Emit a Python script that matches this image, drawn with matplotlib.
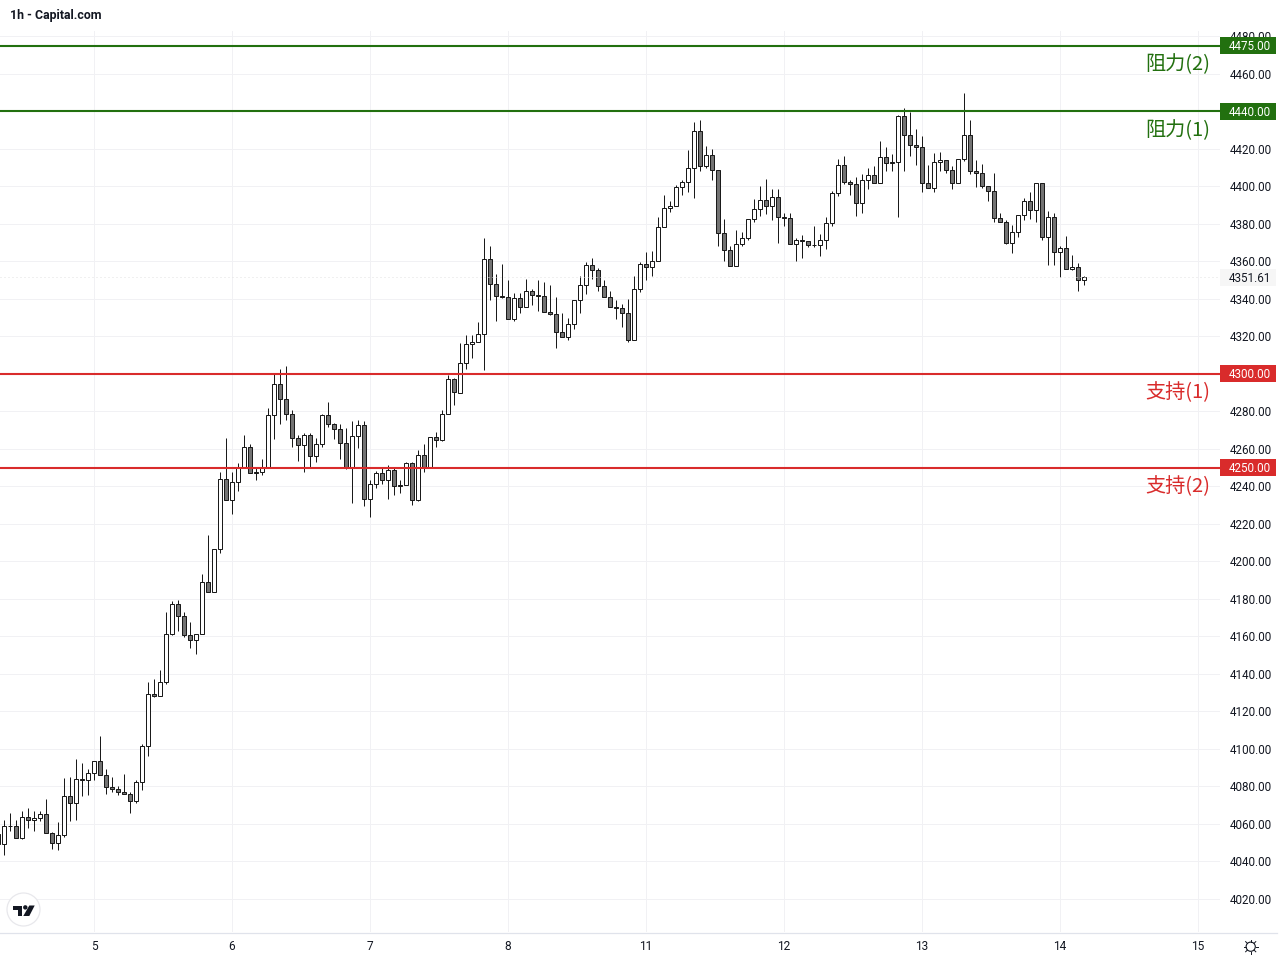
import matplotlib
matplotlib.use("Agg")
import matplotlib.pyplot as plt
from matplotlib.patches import Rectangle, Circle, Polygon
from matplotlib.lines import Line2D
import numpy as np

# Candles, one hour each (first one is cut by the left edge)
opens = [4054.4,
    4049.4, 4059.0, 4059.0, 4052.6, 4063.8, 4062.2, 4063.3, 4065.4, 4055.3, 4050.0,
    4054.2, 4075.0, 4071.3, 4084.1, 4083.6, 4087.3, 4093.7, 4086.2, 4079.8, 4078.8,
    4077.2, 4076.1, 4072.4, 4082.5, 4101.7, 4129.4, 4128.4, 4135.8, 4161.4, 4177.4,
    4171.0, 4160.7, 4158.2, 4161.4, 4189.2, 4183.8, 4206.4, 4244.1, 4232.9, 4242.5,
    4250.5, 4261.2, 4247.8, 4247.8, 4250.0, 4278.2, 4294.8, 4286.8, 4278.8, 4266.0,
    4262.2, 4267.6, 4256.4, 4262.8, 4278.2, 4273.4, 4270.8, 4263.3, 4250.5, 4267.0,
    4272.9, 4233.4, 4241.4, 4247.3, 4243.6, 4248.9, 4240.9, 4240.9, 4252.6, 4232.9,
    4256.9, 4250.5, 4266.5, 4264.9, 4278.7, 4297.4, 4290.0, 4306.0, 4316.1, 4317.2,
    4321.4, 4361.4, 4348.1, 4341.7, 4341.2, 4329.4, 4340.6, 4335.8, 4344.4, 4342.2,
    4341.7, 4333.2, 4332.1, 4322.5, 4319.8, 4326.8, 4339.6, 4347.6, 4358.2, 4355.6,
    4347.0, 4341.2, 4335.8, 4335.3, 4332.6, 4318.2, 4345.4, 4358.8, 4357.2, 4360.4,
    4378.5, 4388.6, 4389.7, 4399.8, 4402.5, 4410.0, 4429.7, 4411.0, 4416.9, 4408.9,
    4375.3, 4366.2, 4357.7, 4369.4, 4372.6, 4382.8, 4388.1, 4392.9, 4389.7, 4394.5,
    4383.8, 4383.3, 4369.4, 4371.6, 4371.0, 4368.7, 4368.9, 4371.6, 4380.6, 4396.6,
    4411.6, 4402.5, 4401.4, 4391.3, 4403.6, 4406.2, 4402.0, 4415.8, 4413.2, 4413.2,
    4437.7, 4427.6, 4422.2, 4421.2, 4402.0, 4399.3, 4413.2, 4414.2, 4408.9, 4402.0,
    4414.8, 4427.6, 4408.4, 4407.3, 4400.4, 4397.7, 4383.3, 4381.2, 4370.0, 4375.8,
    4384.9, 4392.4, 4387.6, 4402.0, 4373.2, 4383.8, 4365.2, 4367.3, 4356.1, 4357.2,
    4350.2]
closes = [4049.4,
    4059.0, 4058.8, 4052.6, 4063.8, 4062.2, 4063.3, 4065.4, 4055.3, 4050.0, 4054.2,
    4075.0, 4071.3, 4084.1, 4083.6, 4087.3, 4093.7, 4086.2, 4079.8, 4078.8, 4077.2,
    4076.1, 4072.4, 4082.5, 4101.7, 4129.4, 4128.4, 4135.8, 4161.4, 4177.4, 4171.0,
    4160.9, 4158.2, 4161.4, 4189.2, 4183.8, 4206.4, 4244.1, 4232.9, 4242.5, 4250.5,
    4261.2, 4247.3, 4247.3, 4250.0, 4278.2, 4294.8, 4286.8, 4278.8, 4266.0, 4262.2,
    4267.6, 4256.4, 4262.8, 4278.2, 4273.4, 4270.8, 4263.3, 4250.5, 4267.0, 4272.9,
    4233.4, 4241.4, 4247.3, 4243.6, 4248.9, 4240.4, 4240.4, 4252.6, 4232.9, 4256.9,
    4250.5, 4266.5, 4264.9, 4278.7, 4297.4, 4290.5, 4306.0, 4316.1, 4317.2, 4321.4,
    4361.4, 4348.1, 4341.7, 4341.0, 4329.4, 4340.6, 4335.8, 4344.4, 4342.2, 4341.7,
    4333.2, 4332.1, 4322.5, 4319.8, 4326.8, 4339.6, 4347.6, 4358.2, 4355.6, 4347.0,
    4341.2, 4335.8, 4335.3, 4332.6, 4318.2, 4345.4, 4358.8, 4357.2, 4360.4, 4378.5,
    4388.6, 4389.7, 4399.8, 4402.5, 4410.0, 4429.7, 4411.0, 4416.9, 4408.9, 4375.3,
    4366.2, 4357.7, 4369.4, 4372.6, 4382.8, 4388.1, 4392.9, 4389.7, 4394.5, 4383.8,
    4383.3, 4369.4, 4371.6, 4371.0, 4368.9, 4368.9, 4371.6, 4380.6, 4396.6, 4411.6,
    4402.5, 4401.4, 4391.3, 4403.6, 4406.2, 4402.0, 4415.8, 4412.6, 4412.6, 4437.7,
    4427.6, 4422.2, 4421.2, 4402.0, 4399.3, 4413.2, 4414.2, 4408.9, 4402.0, 4414.8,
    4427.6, 4408.4, 4407.3, 4400.4, 4397.7, 4383.3, 4381.2, 4370.0, 4375.8, 4384.9,
    4392.4, 4387.6, 4402.0, 4373.2, 4383.8, 4365.2, 4367.3, 4356.1, 4357.2, 4350.2,
    4351.61]
highs = [4056.0,
    4061.9, 4065.6, 4061.9, 4066.7, 4068.3, 4066.7, 4067.0, 4073.1, 4055.8, 4060.8,
    4084.3, 4084.8, 4094.4, 4092.3, 4089.1, 4093.7, 4106.7, 4089.1, 4085.3, 4080.5,
    4086.4, 4077.2, 4083.7, 4102.8, 4135.5, 4137.1, 4141.9, 4173.3, 4178.7, 4179.7,
    4172.8, 4167.5, 4161.4, 4193.1, 4213.9, 4206.9, 4247.8, 4265.6, 4247.5, 4252.6,
    4267.7, 4262.4, 4250.0, 4254.4, 4282.0, 4300.6, 4302.9, 4304.5, 4280.9, 4267.7,
    4268.6, 4268.6, 4265.6, 4278.9, 4284.8, 4274.0, 4273.4, 4271.3, 4274.7, 4275.7,
    4274.7, 4243.2, 4248.5, 4250.1, 4251.6, 4250.5, 4243.6, 4253.2, 4253.2, 4259.7,
    4262.4, 4266.5, 4269.2, 4280.9, 4299.2, 4298.0, 4316.6, 4320.9, 4320.9, 4327.8,
    4372.3, 4368.0, 4353.1, 4358.9, 4349.9, 4343.3, 4343.3, 4350.8, 4345.4, 4350.2,
    4349.3, 4347.7, 4341.3, 4332.6, 4330.0, 4339.6, 4352.5, 4359.8, 4362.0, 4356.6,
    4350.2, 4344.5, 4339.6, 4337.4, 4340.1, 4352.5, 4359.8, 4365.2, 4365.7, 4383.5,
    4395.7, 4392.5, 4400.9, 4403.6, 4419.6, 4434.5, 4435.7, 4421.7, 4420.1, 4408.9,
    4382.8, 4368.0, 4376.9, 4375.8, 4382.8, 4393.1, 4400.5, 4404.1, 4398.4, 4398.8,
    4386.0, 4386.0, 4372.6, 4374.2, 4371.0, 4378.7, 4374.8, 4383.8, 4397.7, 4414.8,
    4416.4, 4403.6, 4405.2, 4406.4, 4410.0, 4410.7, 4424.5, 4421.3, 4417.1, 4438.2,
    4441.6, 4439.8, 4430.4, 4426.7, 4411.7, 4418.0, 4418.5, 4414.2, 4410.7, 4414.8,
    4450.0, 4435.7, 4414.2, 4412.1, 4400.4, 4407.3, 4386.0, 4381.9, 4379.7, 4384.9,
    4394.0, 4396.8, 4402.0, 4402.0, 4387.0, 4386.0, 4368.4, 4373.7, 4363.6, 4359.3,
    4352.4]
lows = [4045.0,
    4043.4, 4056.2, 4052.6, 4052.1, 4057.6, 4056.2, 4061.5, 4055.3, 4046.6, 4046.0,
    4053.0, 4061.5, 4062.0, 4074.8, 4075.2, 4083.4, 4086.2, 4075.9, 4077.0, 4075.2,
    4076.1, 4065.6, 4071.1, 4078.0, 4096.2, 4127.6, 4128.4, 4134.9, 4160.7, 4162.7,
    4159.6, 4153.8, 4150.4, 4161.4, 4183.8, 4183.8, 4204.3, 4232.9, 4225.3, 4237.5,
    4249.6, 4247.3, 4243.4, 4246.0, 4250.0, 4265.1, 4273.2, 4275.4, 4261.0, 4253.5,
    4247.6, 4249.8, 4253.0, 4261.0, 4271.6, 4265.2, 4254.6, 4249.2, 4231.1, 4260.4,
    4229.5, 4223.6, 4239.1, 4241.4, 4233.2, 4235.4, 4236.4, 4240.9, 4230.0, 4232.2,
    4247.6, 4250.5, 4261.0, 4264.0, 4278.7, 4283.4, 4290.0, 4302.4, 4308.3, 4317.2,
    4302.1, 4339.4, 4328.2, 4340.6, 4329.4, 4328.2, 4332.4, 4335.8, 4336.9, 4333.5,
    4333.2, 4331.4, 4313.8, 4319.6, 4318.0, 4323.9, 4332.4, 4342.4, 4350.4, 4344.0,
    4341.2, 4335.8, 4329.1, 4325.0, 4317.0, 4318.2, 4343.6, 4349.9, 4352.0, 4360.4,
    4378.5, 4386.3, 4389.7, 4395.2, 4396.8, 4394.1, 4408.0, 4410.1, 4403.7, 4368.0,
    4360.0, 4357.7, 4357.7, 4368.0, 4371.7, 4381.0, 4384.2, 4385.1, 4382.1, 4369.6,
    4378.8, 4369.4, 4360.5, 4361.6, 4367.5, 4367.5, 4362.7, 4366.9, 4378.8, 4394.7,
    4401.2, 4395.7, 4384.5, 4385.6, 4398.6, 4402.0, 4402.0, 4408.0, 4408.0, 4383.6,
    4408.5, 4416.5, 4411.2, 4397.0, 4399.1, 4397.0, 4408.5, 4407.1, 4398.6, 4402.0,
    4413.5, 4406.6, 4399.6, 4399.1, 4392.2, 4381.0, 4381.0, 4369.1, 4364.4, 4373.0,
    4382.0, 4382.9, 4381.0, 4371.4, 4358.0, 4357.9, 4351.6, 4356.1, 4355.6, 4344.2,
    4347.4]

# Axis ticks
day_bars = [15, 38, 61, 84, 107, 130, 153, 176, 199]
day_labels = ["5", "6", "7", "8", "11", "12", "13", "14", "15"]
price_ticks = list(range(4020, 4481, 20))
last_price = 4351.61

# Horizontal levels: price, label, colour
level_prices = [4475, 4440, 4300, 4250]
level_names = ["阻力(2)", "阻力(1)", "支持(1)", "支持(2)"]
green = "#22700f"
red = "#d92b2b"
level_colors = [green, green, red, red]

ink = "#131722"
grid_color = "#f1f1f4"
cjk = ["Noto Sans CJK SC", "DejaVu Sans"]

W, H = 1280, 960
fig = plt.figure(figsize=(12.8, 9.6), dpi=100, facecolor="white")

# Chart pane: px 0..1220 across, px 31..932 down
ax = fig.add_axes([0, (H - 932) / H, 1220 / W, (932 - 31) / H])
ax.set_xlim(-0.667, 202.667)
ax.set_ylim(4002.4, 4482.9)
for s in ax.spines.values():
    s.set_visible(False)
ax.set_axisbelow(True)
ax.grid(True, color=grid_color, linewidth=0.72)

# Ticks
ax.yaxis.tick_right()
ax.set_yticks(price_ticks)
ax.set_yticklabels(["%.2f" % p for p in price_ticks], fontsize=8.4,
                   color=ink, family="Roboto")
ax.tick_params(axis="y", length=0, pad=7.0)
ax.set_xticks(day_bars)
ax.set_xticklabels(day_labels, fontsize=8.6, color=ink, family="Roboto")
ax.tick_params(axis="x", length=0, pad=5.5)

# Candles
bars = np.arange(-1, len(opens) - 1)
o = np.array(opens)
c = np.array(closes)
fills = ["white" if b >= a else "#737373" for a, b in zip(o, c)]
ax.vlines(bars, lows, highs, color="#1a1a1a", linewidth=0.72, zorder=3)
ax.bar(bars, np.abs(c - o), bottom=np.minimum(o, c), width=0.667,
       color=fills, edgecolor="#1a1a1a", linewidth=0.72, zorder=4)

# Dotted last price line
ax.axhline(last_price, color="#e2e2e2", linewidth=0.72, linestyle=(0, (1, 3)), zorder=5)

# Levels and their names
trans = ax.get_yaxis_transform()
for price, name, col in zip(level_prices, level_names, level_colors):
    ax.axhline(price, color=col, linewidth=1.5, zorder=6)
    ax.annotate(name, xy=(1, price), xycoords=trans, xytext=(-10, -19),
                textcoords="offset pixels", ha="right", va="center",
                fontsize=14.5, color=col, family=cjk, zorder=7)

# Price tags, on their own pane so they sit over the tick labels
tag_ax = fig.add_axes([1220 / W, (H - 932) / H, 60 / W, (932 - 31) / H])
tag_ax.set_xlim(1220, 1280)
tag_ax.set_ylim(ax.get_ylim())
tag_ax.axis("off")
tag_h = 17 / 1.875
text_drop = 1.0 / 1.875
for price, col in zip(level_prices, level_colors):
    tag_ax.add_patch(Rectangle((1220, price - tag_h / 2), 56, tag_h, facecolor=col,
                               edgecolor="none", zorder=2))
    tag_ax.text(1250, price - text_drop, "%.2f" % price, color="white", fontsize=8.4,
                family="Roboto", ha="center", va="center", zorder=3)
tag_ax.add_patch(Rectangle((1220, last_price - tag_h / 2), 56, tag_h, facecolor="#f6f6f6",
                           edgecolor="none", zorder=2))
tag_ax.text(1250, last_price - text_drop, "%.2f" % last_price, color=ink, fontsize=8.4,
            family="Roboto", ha="center", va="center", zorder=3)

# Pixel overlay for title, logo, bottom rule and sun icon
over = fig.add_axes([0, 0, 1, 1])
over.set_xlim(0, W)
over.set_ylim(H, 0)
over.axis("off")
over.patch.set_alpha(0)

over.text(10, 16, "1h - Capital.com", fontsize=8.9, fontweight="bold", color=ink,
          family="Roboto", ha="left", va="center")
over.add_line(Line2D([0, 1277], [932.5, 932.5], color="#e0e3eb", linewidth=0.9))

# TradingView mark
over.add_patch(Circle((23.5, 909.5), 16.5, facecolor="white", edgecolor="#e8e8ec", linewidth=0.9))
over.add_patch(Polygon([(12.7, 905.5), (22, 905.5), (22, 916), (18, 916), (18, 909.7), (12.7, 909.7)],
                       facecolor=ink, edgecolor="none"))
over.add_patch(Circle((25.3, 907.4), 2.2, facecolor=ink, edgecolor="none"))
over.add_patch(Polygon([(29.3, 905.5), (34.7, 905.5), (29.3, 916), (23.3, 916)],
                       facecolor=ink, edgecolor="none"))

# Sun icon
sx, sy = 1250.7, 946.7
over.add_patch(Circle((sx, sy), 4.6, facecolor="none", edgecolor=ink, linewidth=0.8))
for a in np.deg2rad(np.arange(0, 360, 45)):
    over.add_line(Line2D([sx + 4.8 * np.cos(a), sx + 7.2 * np.cos(a)],
                         [sy + 4.8 * np.sin(a), sy + 7.2 * np.sin(a)],
                         color=ink, linewidth=0.7))

fig.savefig("out.png", dpi=100)
